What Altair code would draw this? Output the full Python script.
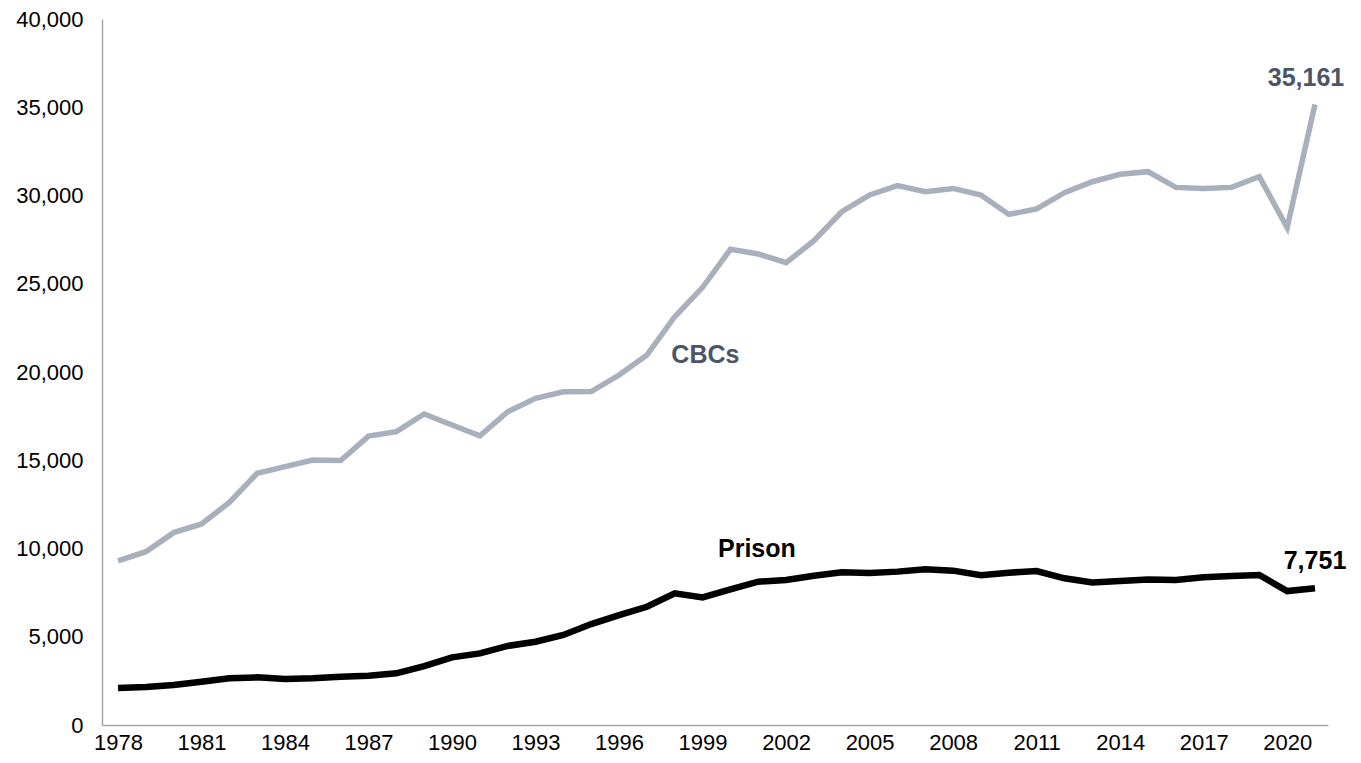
import altair as alt
import pandas as pd

years = list(range(1978, 2022))
cbcs = [9300, 9820, 10900, 11390, 12610, 14260, 14640, 15010, 14980, 16370,
        16620, 17620, 17000, 16390, 17750, 18510, 18880, 18890, 19830, 20960,
        23130, 24800, 26950, 26690, 26190, 27440, 29080, 30030, 30560, 30220,
        30400, 30030, 28930, 29240, 30160, 30780, 31200, 31350, 30460, 30390,
        30460, 31070, 28180, 35161]
prison = [2100, 2150, 2270, 2455, 2645, 2700, 2610, 2645, 2740, 2795,
          2930, 3340, 3830, 4060, 4480, 4720, 5100, 5720, 6230, 6700,
          7460, 7230, 7690, 8120, 8215, 8460, 8650, 8610, 8690, 8820,
          8745, 8480, 8630, 8725, 8310, 8080, 8160, 8250, 8215, 8365,
          8440, 8500, 7590, 7751]

x_ticks = list(range(1978, 2021, 3))
y_ticks = list(range(0, 40001, 5000))

series_names = ["CBCs", "Prison"]
series_colors = ["#A7B0BC", "#000000"]
text_colors = ["#4B5567", "#000000"]

rows = []
for y, c, p in zip(years, cbcs, prison):
    rows.append({"year": y, "value": c, "series": "CBCs"})
    rows.append({"year": y, "value": p, "series": "Prison"})
df = pd.DataFrame(rows)

# series name labels (anchor year/value)
name_labels = pd.DataFrame({
    "label": ["CBCs", "Prison"],
    "year": [1999.1, 2000.95],
    "value": [20950, 9950],
    "series": series_names,
})
end_labels = pd.DataFrame({
    "label": [f"{cbcs[-1]:,}", f"{prison[-1]:,}"],
    "year": [years[-1], years[-1]],
    "value": [cbcs[-1], prison[-1]],
    "series": series_names,
})

x_scale = alt.Scale(domain=[1977.425, 2021.467], nice=False, zero=False)
y_scale = alt.Scale(domain=[0, 40000], nice=False)
color_scale = alt.Scale(domain=series_names, range=series_colors)
text_scale = alt.Scale(domain=series_names, range=text_colors)

x_axis = alt.Axis(values=x_ticks,
                  labelExpr="format(datum.value, 'd')",
                  title=None, grid=False, ticks=False,
                  domainColor="#A6A6A6", domainWidth=1.5,
                  labelFont="Liberation Sans", labelFontSize=22,
                  labelColor="#000000", labelPadding=7)
y_axis = alt.Axis(values=y_ticks,
                  labelExpr="format(datum.value, ',')",
                  title=None, grid=False, ticks=False,
                  domainColor="#A6A6A6", domainWidth=1.5,
                  labelFont="Liberation Sans", labelFontSize=22,
                  labelColor="#000000", labelPadding=19)

X = alt.X("year:Q", scale=x_scale, axis=x_axis)
Y = alt.Y("value:Q", scale=y_scale, axis=y_axis)

lines = alt.Chart(df).mark_line(strokeJoin="miter").encode(
    x=X, y=Y,
    color=alt.Color("series:N", scale=color_scale, legend=None),
    strokeWidth=alt.StrokeWidth("series:N",
                                scale=alt.Scale(domain=series_names, range=[5.5, 6.5]),
                                legend=None),
    detail="series:N",
)

names = alt.Chart(name_labels).mark_text(
    font="Liberation Sans", fontSize=25, fontWeight="bold",
    align="center", baseline="middle"
).encode(
    x=X, y=Y,
    text="label:N",
    color=alt.Color("series:N", scale=text_scale, legend=None),
)

end_cbc = alt.Chart(end_labels[end_labels.series == "CBCs"]).mark_text(
    font="Liberation Sans", fontSize=25, fontWeight="bold",
    align="center", baseline="middle", dx=-9, dy=-26
).encode(
    x=X, y=Y,
    text="label:N",
    color=alt.Color("series:N", scale=text_scale, legend=None),
)

end_prison = alt.Chart(end_labels[end_labels.series == "Prison"]).mark_text(
    font="Liberation Sans", fontSize=25, fontWeight="bold",
    align="center", baseline="middle", dx=0, dy=-27
).encode(
    x=X, y=Y,
    text="label:N",
    color=alt.Color("series:N", scale=text_scale, legend=None),
)

chart = alt.layer(lines, names, end_cbc, end_prison).resolve_scale(
    color="independent"
).properties(
    width=1226, height=706,
    autosize=alt.AutoSizeParams(type="none"),
    padding={"left": 94, "top": 11, "right": 25, "bottom": 28},
    background="#FFFFFF",
).configure_view(stroke=None)

chart.save("out.html", embed_options={"renderer": "svg", "actions": False})
